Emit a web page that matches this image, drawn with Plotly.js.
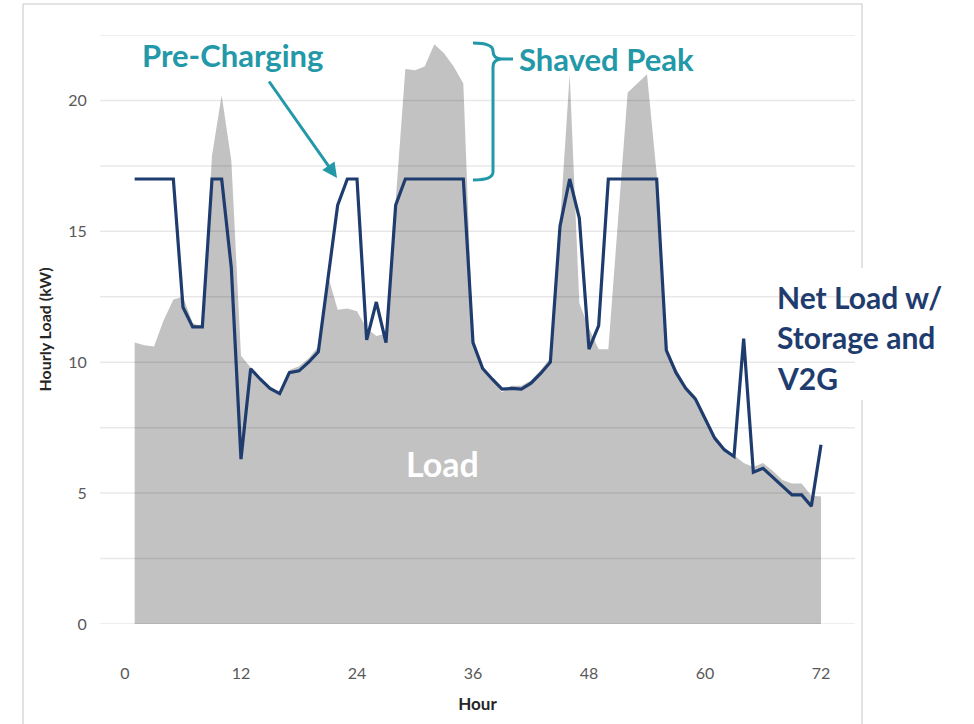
<!DOCTYPE html>
<html>
<head>
<meta charset="utf-8">
<script src="https://cdn.plot.ly/plotly-3.0.1.min.js"></script>
<style>html,body{margin:0;padding:0;background:#fff;}</style>
</head>
<body>
<div id="chart" style="width:974px;height:724px;"></div>
<script>
// ---- data ----
const hours = [1,2,3,4,5,6,7,8,9,10,11,12,13,14,15,16,17,18,19,20,21,22,23,24,
  25,26,27,28,29,30,31,32,33,34,35,36,37,38,39,40,41,42,43,44,45,46,47,48,
  49,50,51,52,53,54,55,56,57,58,59,60,61,62,63,64,65,66,67,68,69,70,71,72];
const loadKW = [10.75,10.65,10.6,11.6,12.4,12.5,11.5,11.35,17.9,20.2,17.7,10.25,
  9.8,9.4,9.05,8.85,9.7,9.85,10.15,10.6,13.3,12.0,12.05,11.95,
  11.3,11.0,11.1,16.3,21.2,21.15,21.3,22.15,21.8,21.3,20.65,10.8,
  9.8,9.35,8.85,9.1,9.1,9.3,9.7,10.15,15.3,21.0,12.25,11.3,
  10.5,10.5,15.4,20.3,20.65,21.0,17.2,10.5,9.75,9.1,8.7,7.95,
  7.2,6.75,6.45,6.15,6.0,6.15,5.85,5.5,5.37,5.37,4.9,4.87];
const netLoadKW = [17,17,17,17,17,12.1,11.35,11.35,17,17,13.6,6.3,
  9.75,9.35,9.0,8.8,9.6,9.67,10.0,10.4,13.3,16.0,17,17,
  10.85,12.3,10.75,16.0,17,17,17,17,17,17,17,10.75,
  9.76,9.35,8.97,9.0,8.97,9.2,9.57,10.0,15.2,17,15.5,10.5,
  11.4,17,17,17,17,17,17,10.45,9.6,9.0,8.6,7.85,
  7.1,6.65,6.4,10.9,5.8,5.95,5.6,5.28,4.93,4.93,4.5,6.85];
const xTicks = [0,12,24,36,48,60,72];
const yTicks = [0,5,10,15,20];
const yGrid = [0,2.5,5,7.5,10,12.5,15,17.5,20,22.5];

// ---- style ----
const TEAL = '#2398A8';
const NAVY = '#1F3C6E';
const FONT = 'Lato, "Open Sans", sans-serif';

// plot area: left 100, right 855, top 35, bottom 624 (pixels)
const L = 100, R = 855, T = 35, B = 624;
const px = p => (p - L) / (R - L);
const py = p => (B - p) / (B - T);

const traces = [
  {
    x: hours, y: loadKW, type: 'scatter', mode: 'lines',
    fill: 'tozeroy', fillcolor: '#C2C2C2',
    line: {width: 0, color: '#C2C2C2'}, name: 'Load', hoverinfo: 'x+y'
  },
  {
    x: hours, y: netLoadKW, type: 'scatter', mode: 'lines',
    line: {width: 3.2, color: NAVY}, name: 'Net Load w/ Storage and V2G'
  }
];

const shapes = [];
// gridlines drawn over the area (semi-transparent so they show through the grey)
yGrid.forEach(v => shapes.push({
  type: 'line', xref: 'paper', yref: 'y', x0: 0, x1: 1, y0: v, y1: v,
  line: {color: 'rgba(0,0,0,0.09)', width: 1.5}, layer: 'above'
}));
// outer frame
shapes.push({type: 'line', xref: 'paper', yref: 'paper', x0: px(23), x1: px(862), y0: py(4), y1: py(4), line: {color: '#C6C6C6', width: 1}});
shapes.push({type: 'line', xref: 'paper', yref: 'paper', x0: px(23), x1: px(23), y0: py(4), y1: py(730), line: {color: '#C6C6C6', width: 1}});
shapes.push({type: 'line', xref: 'paper', yref: 'paper', x0: px(862), x1: px(862), y0: py(4), y1: py(268), line: {color: '#C6C6C6', width: 1}});
shapes.push({type: 'line', xref: 'paper', yref: 'paper', x0: px(862), x1: px(862), y0: py(400), y1: py(730), line: {color: '#C6C6C6', width: 1}});
// curly bracket for "Shaved Peak"
function P(x, y) { return px(x).toFixed(5) + ',' + py(y).toFixed(5); }
const bracePath =
  'M' + P(473, 43) + ' Q' + P(493, 43) + ' ' + P(493, 51) +
  ' Q' + P(493, 59) + ' ' + P(502, 59) + ' L' + P(513, 59) +
  ' M' + P(502, 59) + ' Q' + P(493, 59) + ' ' + P(493, 67) +
  ' L' + P(493, 172) + ' Q' + P(493, 180) + ' ' + P(473, 180);
shapes.push({type: 'path', xref: 'paper', yref: 'paper', path: bracePath,
  line: {color: TEAL, width: 3}});

const annFont = (size, color) => ({family: FONT, size: size, color: color, weight: 700});
const annotations = [
  {xref: 'paper', yref: 'paper', x: px(232), y: py(55), text: 'Pre-Charging',
   showarrow: false, xanchor: 'center', yanchor: 'middle', font: annFont(31, TEAL)},
  {xref: 'paper', yref: 'paper', x: px(337), y: py(178), text: '',
   showarrow: true, ax: -69, ay: -98, arrowhead: 2, arrowsize: 1, arrowwidth: 3, arrowcolor: TEAL},
  {xref: 'paper', yref: 'paper', x: px(517), y: py(59), text: 'Shaved Peak',
   showarrow: false, xanchor: 'left', yanchor: 'middle', font: annFont(31, TEAL)},
  {xref: 'paper', yref: 'paper', x: px(442), y: py(463), text: 'Load',
   showarrow: false, xanchor: 'center', yanchor: 'middle', font: annFont(34, '#FFFFFF')},
  {xref: 'paper', yref: 'paper', x: px(775), y: py(297), text: 'Net Load w/',
   showarrow: false, xanchor: 'left', yanchor: 'middle', font: annFont(30, NAVY)},
  {xref: 'paper', yref: 'paper', x: px(775), y: py(337), text: 'Storage and',
   showarrow: false, xanchor: 'left', yanchor: 'middle', font: annFont(30, NAVY)},
  {xref: 'paper', yref: 'paper', x: px(775), y: py(378), text: 'V2G',
   showarrow: false, xanchor: 'left', yanchor: 'middle', font: annFont(30, NAVY)}
];

const layout = {
  width: 974, height: 724,
  margin: {l: L, r: 974 - R, t: T, b: 724 - B, pad: 0},
  paper_bgcolor: '#FFFFFF', plot_bgcolor: '#FFFFFF',
  showlegend: false,
  font: {family: FONT},
  xaxis: {
    range: [(L - 125) / 9.6667, (R - 125) / 9.6667],
    tickvals: xTicks, ticktext: xTicks.map(String),
    showgrid: false, zeroline: false, showline: false,
    ticks: 'outside', ticklen: 35, tickcolor: 'rgba(0,0,0,0)',
    tickfont: {family: FONT, size: 16, color: '#595959'},
    title: {text: 'Hour', font: {family: FONT, size: 17, color: '#262626', weight: 700}, standoff: 16}
  },
  yaxis: {
    range: [0, 22.5],
    tickvals: yTicks, ticktext: yTicks.map(String),
    showgrid: false, zeroline: false, showline: false,
    ticks: 'outside', ticklen: 9, tickcolor: 'rgba(0,0,0,0)',
    tickfont: {family: FONT, size: 16, color: '#595959'},
    title: {text: 'Hourly Load (kW)', font: {family: FONT, size: 16, color: '#262626', weight: 700}, standoff: 12}
  },
  shapes: shapes,
  annotations: annotations
};

Plotly.newPlot('chart', traces, layout, {displayModeBar: false, staticPlot: true});
</script>
</body>
</html>
